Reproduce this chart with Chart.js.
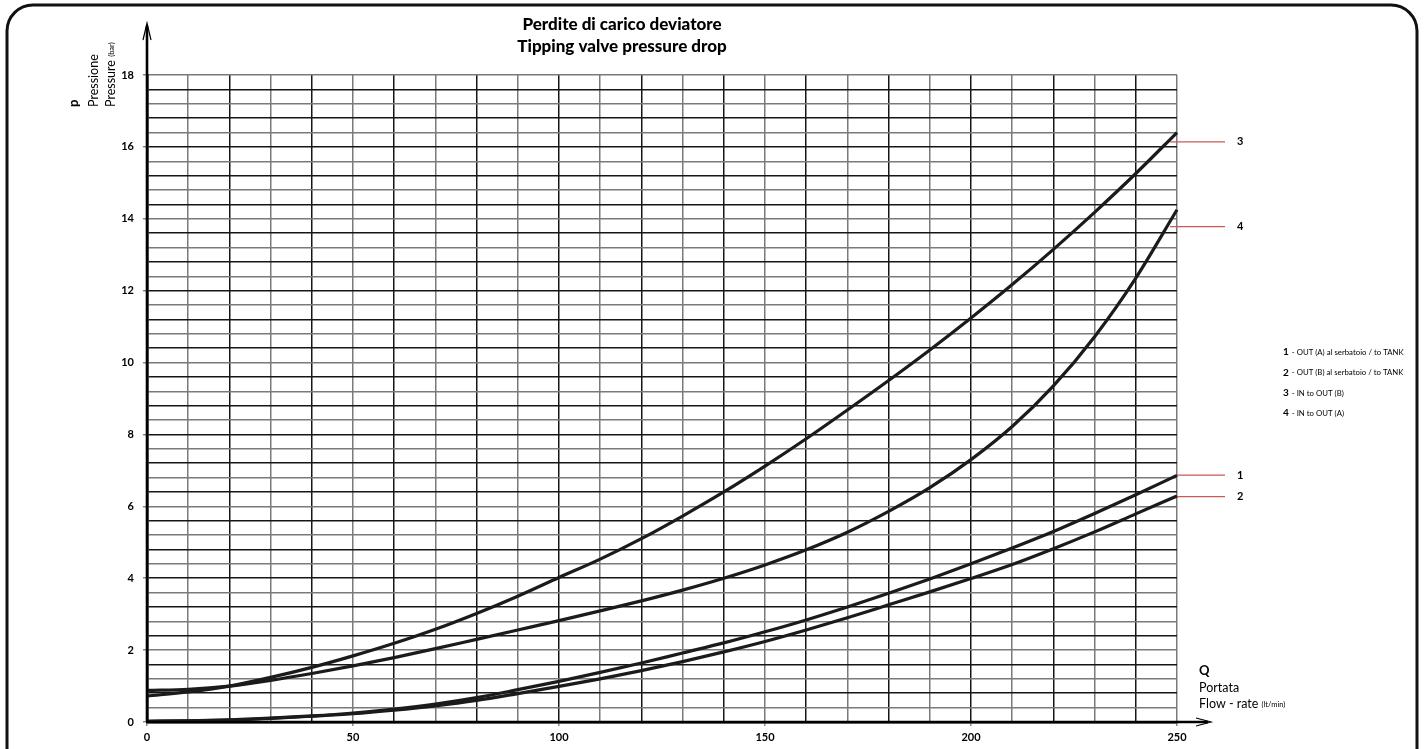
<!DOCTYPE html>
<html>
<head>
<meta charset="utf-8">
<script src="https://cdn.jsdelivr.net/npm/chart.js@4.4.1/dist/chart.umd.min.js"></script>
<style>
  html, body { margin: 0; padding: 0; background: #fff; }
  #wrap { width: 1424px; height: 749px; position: relative; }
</style>
</head>
<body>
<div id="wrap"><canvas id="c" width="1424" height="749"></canvas></div>
<script>
// ---- data ----
const flowRate = [0,10,20,30,40,50,60,70,80,90,100,110,120,130,140,150,160,170,180,190,200,210,220,230,240,250];
const outATank = [0.02,0.03,0.06,0.11,0.17,0.25,0.36,0.50,0.68,0.90,1.13,1.38,1.64,1.92,2.20,2.51,2.84,3.20,3.58,3.98,4.40,4.84,5.30,5.80,6.32,6.86];
const outBTank = [0.02,0.03,0.05,0.10,0.16,0.23,0.33,0.45,0.60,0.79,0.99,1.20,1.43,1.68,1.95,2.24,2.56,2.90,3.26,3.62,3.99,4.38,4.82,5.29,5.79,6.29];
const inToOutB = [0.72,0.84,1.00,1.24,1.52,1.84,2.19,2.58,3.02,3.50,4.02,4.53,5.10,5.73,6.40,7.12,7.88,8.68,9.50,10.35,11.24,12.17,13.15,14.18,15.26,16.40];
const inToOutA = [0.88,0.91,1.00,1.16,1.35,1.56,1.79,2.04,2.30,2.56,2.82,3.09,3.37,3.67,4.00,4.37,4.79,5.28,5.86,6.52,7.30,8.22,9.35,10.72,12.35,14.25];

const seriesNumbers = ['1','2','3','4'];
const seriesNames = ['OUT (A) al serbatoio / to TANK','OUT (B) al serbatoio / to TANK','IN to OUT (B)','IN to OUT (A)'];
const leaderValues = [6.87, 6.27, 16.14, 13.78];

const titleLines = ['Perdite di carico deviatore','Tipping valve pressure drop'];
const yTitle = ['p','Pressione','Pressure'];
const yUnit = '(bar)';
const xTitle = ['Q','Portata','Flow - rate'];
const xUnit = '(lt/min)';

const yMin = 0, yMax = 18, yStep = 0.4;
const xMin = 0, xMax = 250, xStep = 10;

function isLabelledY(v){ const r = Math.round(v); return Math.abs(v - r) < 1e-6 && r % 2 === 0; }
function isLabelledX(v){ return Math.abs(v % 50) < 1e-6; }

const allSeries = [outATank, outBTank, inToOutB, inToOutA];
const datasets = allSeries.map((arr, i) => ({
  label: seriesNumbers[i] + ' - ' + seriesNames[i],
  data: flowRate.map((q, k) => ({x: q, y: arr[k]})),
  borderColor: '#1b1b1b',
  borderWidth: 3.2,
  pointRadius: 0,
  fill: false,
  cubicInterpolationMode: 'monotone',
  clip: 4
}));

const FONT = 'Lato, "Open Sans", sans-serif';

const decor = {
  id: 'decor',
  beforeDraw(chart) {
    const ctx = chart.ctx;
    ctx.save();
    ctx.fillStyle = '#fff';
    ctx.fillRect(0, 0, chart.width, chart.height);
    ctx.restore();
  },
  afterDraw(chart) {
    const ctx = chart.ctx;
    const xs = chart.scales.x, ys = chart.scales.y;
    const x0 = xs.getPixelForValue(xMin), xE = xs.getPixelForValue(xMax);
    const y0 = ys.getPixelForValue(yMin);
    ctx.save();

    // frame
    ctx.strokeStyle = '#111';
    ctx.lineWidth = 3;
    ctx.beginPath();
    ctx.roundRect(7, 5, 1410, 780, 26);
    ctx.stroke();

    // axis extensions + arrows
    ctx.strokeStyle = '#000';
    ctx.lineWidth = 2.6;
    ctx.beginPath();
    ctx.moveTo(x0, y0); ctx.lineTo(x0, 26);
    ctx.moveTo(x0, y0); ctx.lineTo(1208, y0);
    ctx.stroke();
    ctx.lineWidth = 1.2;
    ctx.beginPath();
    ctx.moveTo(x0 - 4, 40); ctx.lineTo(x0, 23); ctx.lineTo(x0 + 4, 40);
    ctx.moveTo(1196, y0 - 4); ctx.lineTo(1211, y0); ctx.lineTo(1196, y0 + 4);
    ctx.stroke();

    // title
    ctx.fillStyle = '#000';
    ctx.textAlign = 'center';
    ctx.textBaseline = 'alphabetic';
    ctx.font = '900 17px ' + FONT;
    ctx.fillText(titleLines[0], 622, 30);
    ctx.fillText(titleLines[1], 622, 52);

    // y axis title (rotated)
    ctx.save();
    ctx.translate(0, 107);
    ctx.rotate(-Math.PI / 2);
    ctx.textAlign = 'left';
    ctx.font = 'bold 13px ' + FONT;
    ctx.fillText(yTitle[0], 0, 78);
    ctx.font = '12.5px ' + FONT;
    ctx.fillText(yTitle[1], 0, 98);
    ctx.fillText(yTitle[2], 0, 115);
    const w = ctx.measureText(yTitle[2] + ' ').width;
    ctx.font = '7.5px ' + FONT;
    ctx.fillText(yUnit, w, 114);
    ctx.restore();

    // x axis title
    ctx.textAlign = 'left';
    ctx.font = 'bold 13px ' + FONT;
    ctx.fillText(xTitle[0], 1199, 675);
    ctx.font = '12.5px ' + FONT;
    ctx.fillText(xTitle[1], 1199, 692);
    ctx.fillText(xTitle[2], 1199, 708);
    const wx = ctx.measureText(xTitle[2] + ' ').width;
    ctx.font = '7.5px ' + FONT;
    ctx.fillText(xUnit, 1199 + wx, 707);

    // leader lines + numbers
    ctx.strokeStyle = '#c8585a';
    ctx.lineWidth = 1.2;
    leaderValues.forEach((v, i) => {
      const y = ys.getPixelForValue(v);
      const inner = i >= 2;
      const xa = inner ? xE - 7 : xE;
      ctx.beginPath(); ctx.moveTo(xa, y); ctx.lineTo(1225, y); ctx.stroke();
      ctx.font = 'bold 11px ' + FONT;
      ctx.textBaseline = 'middle';
      ctx.fillText(seriesNumbers[i], 1237, y);
    });

    // legend
    ctx.textBaseline = 'middle';
    seriesNumbers.forEach((n, i) => {
      const y = 352 + 20.3 * i;
      ctx.font = 'bold 10px ' + FONT;
      ctx.fillText(n, 1283, y);
      const nw = ctx.measureText(n).width;
      ctx.font = '7.8px ' + FONT;
      ctx.fillText(' - ' + seriesNames[i], 1283 + nw + 1, y + 0.5);
    });

    ctx.restore();
  }
};

const gridColor = (ctx) => (ctx.index % 2 === 0 ? '#161616' : '#7a7a7a');

new Chart(document.getElementById('c'), {
  type: 'line',
  data: { datasets },
  options: {
    responsive: false,
    animation: false,
    devicePixelRatio: 1,
    layout: { padding: { top: 75, right: 247, bottom: 0, left: 0 } },
    plugins: { legend: { display: false }, title: { display: false }, tooltip: { enabled: false } },
    scales: {
      x: {
        type: 'linear', min: xMin, max: xMax,
        afterFit(s) { s.height = 27; s.paddingLeft = 0; s.paddingRight = 0; },
        grid: {
          color: gridColor, lineWidth: 1.5, tickLength: 4,
          tickColor: (c) => (c.tick && isLabelledX(c.tick.value) ? '#888' : 'rgba(0,0,0,0)')
        },
        border: { color: '#000', width: 2.6 },
        ticks: {
          stepSize: xStep, autoSkip: false, maxRotation: 0, padding: 5,
          color: '#000', font: { family: FONT, size: 11, weight: 'bold' },
          callback: (v) => (isLabelledX(v) ? String(v) : '')
        }
      },
      y: {
        type: 'linear', min: yMin, max: yMax,
        afterFit(s) { s.width = 147; s.paddingTop = 0; s.paddingBottom = 0; },
        grid: {
          color: gridColor, lineWidth: 1.5, tickLength: 4,
          tickColor: (c) => (c.tick && isLabelledY(c.tick.value) ? '#888' : 'rgba(0,0,0,0)')
        },
        border: { color: '#000', width: 2.6 },
        ticks: {
          stepSize: yStep, autoSkip: false, padding: 9,
          color: '#000', font: { family: FONT, size: 11, weight: 'bold' },
          callback: (v) => (isLabelledY(v) ? String(Math.round(v)) : '')
        }
      }
    }
  },
  plugins: [decor]
});
</script>
</body>
</html>
